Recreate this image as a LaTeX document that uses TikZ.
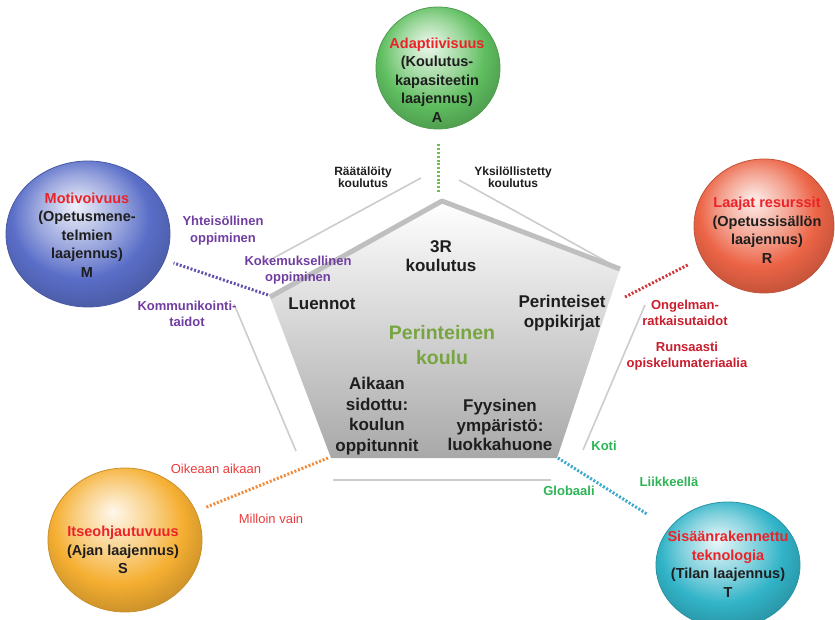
\documentclass[tikz,border=0pt]{standalone}
\usepackage{fontspec}
\setmainfont{Liberation Sans}
\usetikzlibrary{shapes.geometric}

% Farben der Kugeln
\definecolor{kugelA}{RGB}{95,190,95}
\definecolor{kugelM}{RGB}{90,110,200}
\definecolor{kugelR}{RGB}{236,100,70}
\definecolor{kugelS}{RGB}{245,175,50}
\definecolor{kugelT}{RGB}{50,180,200}
% Textfarben
\definecolor{titelrot}{RGB}{235,35,40}
\definecolor{tinte}{RGB}{30,30,30}
\definecolor{lila}{RGB}{112,62,160}
\definecolor{dunkelrot}{RGB}{200,30,45}
\definecolor{hellrot}{RGB}{235,60,60}
\definecolor{gruen}{RGB}{45,180,85}
\definecolor{oliv}{RGB}{120,165,65}
% Farben der gepunkteten Linien
\definecolor{linkgruen}{RGB}{110,190,80}
\definecolor{linklila}{RGB}{100,80,170}
\definecolor{linkrot}{RGB}{205,55,55}
\definecolor{linkorange}{RGB}{240,140,60}
\definecolor{linkcyan}{RGB}{60,170,205}

% Kugel-Schattierung mit Lichtpunkt oben
\newcommand{\kugelshading}[2]{%
  \pgfdeclareradialshading{#1}{\pgfpoint{-4bp}{10bp}}{%
    color(0bp)=(#2!10!white); color(13bp)=(#2!62!white);
    color(21bp)=(#2); color(29bp)=(#2!84!black); color(50bp)=(#2!84!black)}}
\kugelshading{schattA}{kugelA}
\kugelshading{schattM}{kugelM}
\kugelshading{schattR}{kugelR}
\kugelshading{schattS}{kugelS}
\kugelshading{schattT}{kugelT}

\begin{document}
\begin{tikzpicture}[
    x=1pt, y=-1pt,
    % Kugeln (Ellipsen mit Schattierung)
    kugel/.style={ellipse, inner sep=0pt, line width=0.8pt, draw=kugel#1!82!black, shading=schatt#1},
    % Text in den Kugeln
    kugeltext/.style={align=center, text=tinte, font=\bfseries\fontsize{14.5}{18.5}\selectfont},
    % Text im Fuenfeck
    kern/.style={align=center, text=tinte, font=\bfseries\fontsize{17}{19.5}\selectfont},
    % kleine Beschriftungen
    etikett/.style={align=center, font=\bfseries\fontsize{13}{16}\selectfont},
    % aeussere Linien des Fuenfecks
    rand/.style={gray!40, line width=1.6pt},
    % gepunktete Verbindungen
    link/.style={line width=3pt, dash pattern=on 2pt off 1.8pt, shorten >=#1}
]
\useasboundingbox (0,0) rectangle (835,620);

% --- AEUSSERES FUENFECK ---
\draw[rand] (421,178) -- (268,261);
\draw[rand] (459,180) -- (618,268);
\draw[rand] (234,304) -- (296,451);
\draw[rand] (645,305) -- (583,450);
\draw[rand] (333,480) -- (551,480);

% --- INNERES FUENFECK ---
\coordinate (pO) at (442,201);
\coordinate (pOL) at (270,297);
\coordinate (pOR) at (620,269);
\coordinate (pUR) at (557,458);
\coordinate (pUL) at (331,458);
\shade[top color=white, middle color=gray!12, bottom color=gray!68]
    (pO) -- (pOR) -- (pUR) -- (pUL) -- (pOL) -- cycle;
\draw[gray!50, line width=5pt, line join=round] (pOL) -- (pO) -- (pOR);

% --- KUGELN ---
\node[kugel=A, minimum width=124pt, minimum height=122pt] (A) at (438,68) {};
\node[kugel=M, minimum width=164pt, minimum height=146pt] (M) at (88,234) {};
\node[kugel=R, minimum width=140pt, minimum height=134pt] (R) at (764,226) {};
\node[kugel=S, minimum width=154pt, minimum height=144pt] (S) at (125,540) {};
\node[kugel=T, minimum width=144pt, minimum height=126pt] (T) at (728,565) {};

% --- VERBINDUNGEN ---
\coordinate (aA) at (438,192);
\coordinate (aM) at (268,295);
\coordinate (aR) at (625,297);
\coordinate (aS) at (328,458);
\coordinate (aT) at (558,458);
\draw[link=14pt, linkgruen] (aA) -- (A.south);
\draw[link=9pt, linklila] (aM) -- (M);
\draw[link=15pt, linkrot] (aR) -- (R);
\draw[link=11pt, linkorange] (aS) -- (S);
\draw[link=26pt, linkcyan] (aT) -- (T);

% --- TEXT IN DEN KUGELN ---
\node[kugeltext] (tA) at (437,80) {\textcolor{titelrot}{Adaptiivisuus}\\(Koulutus-\\kapasiteetin\\laajennus)\\A};
\node[kugeltext] (tM) at (87,235) {\textcolor{titelrot}{Motivoivuus}\\(Opetusmene-\\telmien\\laajennus)\\M};
\node[kugeltext] (tR) at (767,230) {\textcolor{titelrot}{Laajat resurssit}\\(Opetussisällön\\laajennus)\\R};
\node[kugeltext] (tS) at (123,550) {\textcolor{titelrot}{Itseohjautuvuus}\\(Ajan laajennus)\\S};
\node[kugeltext] (tT) at (728,564) {\textcolor{titelrot}{Sisäänrakennettu}\\\textcolor{titelrot}{teknologia}\\(Tilan laajennus)\\T};

% --- TEXT IM FUENFECK ---
\node[kern] (k3R) at (441,256) {3R\\koulutus};
\node[kern] (kLuen) at (322,304) {Luennot};
\node[kern] (kKirj) at (562,313) {Perinteiset\\oppikirjat};
\node[kern, text=oliv, font=\bfseries\fontsize{19.5}{25}\selectfont] (kKoulu) at (442,345) {Perinteinen\\koulu};
\node[kern, font=\bfseries\fontsize{17}{20.5}\selectfont] (kAika) at (377,416) {Aikaan\\sidottu:\\koulun\\oppitunnit};
\node[kern] (kTila) at (500,425) {Fyysinen\\ympäristö:\\luokkahuone};

% --- BESCHRIFTUNGEN ---
\node[etikett, text=tinte, font=\bfseries\fontsize{12}{12.5}\selectfont] (eRaat) at (363,177) {Räätälöity\\koulutus};
\node[etikett, text=tinte, font=\bfseries\fontsize{12}{12.5}\selectfont] (eYksi) at (513,177) {Yksilöllistetty\\koulutus};
\node[etikett, text=lila, font=\bfseries\fontsize{13}{17}\selectfont] (eYhte) at (223,231) {Yhteisöllinen\\oppiminen};
\node[etikett, text=lila] (eKoke) at (298,270) {Kokemuksellinen\\oppiminen};
\node[etikett, text=lila, font=\bfseries\fontsize{13}{15.5}\selectfont] (eKomm) at (187,314) {Kommunikointi-\\taidot};
\node[etikett, text=dunkelrot] (eOnge) at (685,313) {Ongelman-\\ratkaisutaidot};
\node[etikett, text=dunkelrot] (eRuns) at (687,356) {Runsaasti\\opiskelumateriaalia};
\node[etikett, text=gruen] (eKoti) at (604,446) {Koti};
\node[etikett, text=gruen] (eLiik) at (669,482) {Liikkeellä};
\node[etikett, text=gruen] (eGlob) at (569,491) {Globaali};
\node[etikett, text=hellrot, font=\fontsize{13}{16}\selectfont] (eOike) at (216,469) {Oikeaan aikaan};
\node[etikett, text=hellrot, font=\fontsize{13}{16}\selectfont] (eMill) at (271,519) {Milloin vain};

\end{tikzpicture}
\end{document}
